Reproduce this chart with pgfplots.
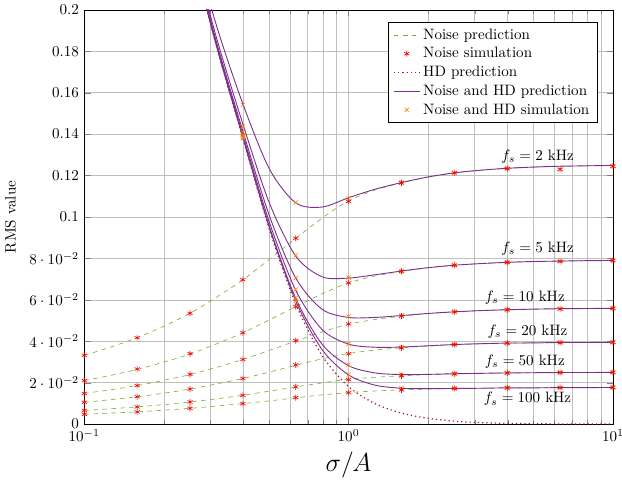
\documentclass[border=0pt]{standalone}
\usepackage{pgfplots}
\usepackage{pgfplotstable}
\pgfplotsset{compat=1.18}
\definecolor{mgreen}{RGB}{119,172,48}
\definecolor{mpurple}{RGB}{126,47,142}
\definecolor{mdarkred}{RGB}{162,20,47}
\definecolor{morange}{RGB}{255,127,0}

% noise prediction, per sampling frequency
\pgfplotstableread{
x      n2     n5     n10    n20    n50    n100
0.1000 0.0332 0.0210 0.0148 0.0105 0.0066 0.0047
0.1259 0.0372 0.0235 0.0166 0.0118 0.0074 0.0053
0.1585 0.0417 0.0264 0.0186 0.0132 0.0083 0.0059
0.1995 0.0472 0.0299 0.0211 0.0149 0.0094 0.0067
0.2512 0.0535 0.0338 0.0239 0.0169 0.0107 0.0076
0.3162 0.0612 0.0387 0.0274 0.0194 0.0122 0.0087
0.3981 0.0697 0.0441 0.0312 0.0220 0.0139 0.0099
0.5012 0.0795 0.0503 0.0356 0.0251 0.0159 0.0112
0.6310 0.0897 0.0567 0.0401 0.0284 0.0179 0.0127
0.7943 0.0995 0.0629 0.0445 0.0315 0.0199 0.0141
1.0000 0.1078 0.0682 0.0482 0.0341 0.0216 0.0152
1.2589 0.1130 0.0715 0.0505 0.0357 0.0226 0.0160
1.5849 0.1165 0.0737 0.0521 0.0368 0.0233 0.0165
1.9953 0.1193 0.0755 0.0534 0.0377 0.0239 0.0169
2.5119 0.1213 0.0767 0.0542 0.0384 0.0243 0.0172
3.1623 0.1226 0.0775 0.0548 0.0388 0.0245 0.0173
3.9811 0.1235 0.0781 0.0552 0.0391 0.0247 0.0175
5.0119 0.1241 0.0785 0.0555 0.0392 0.0248 0.0175
6.3096 0.1245 0.0787 0.0557 0.0394 0.0249 0.0176
7.9433 0.1247 0.0789 0.0558 0.0394 0.0249 0.0176
10.000 0.1249 0.0790 0.0559 0.0395 0.0250 0.0177
}\noisepred

% HD prediction and noise + HD prediction
\pgfplotstableread{
x      hd      c2     c5     c10    c20    c50    c100
0.2512 0.2320  0.2381 0.2345 0.2332 0.2326 0.2322 0.2321
0.3162 0.1825  0.1925 0.1866 0.1845 0.1835 0.1829 0.1827
0.3981 0.1380  0.1546 0.1449 0.1415 0.1398 0.1387 0.1384
0.5012 0.0942  0.1233 0.1068 0.1007 0.0975 0.0955 0.0949
0.6310 0.0580  0.1068 0.0811 0.0705 0.0646 0.0607 0.0594
0.7943 0.0330  0.1048 0.0711 0.0554 0.0456 0.0385 0.0359
1.0000 0.0181  0.1093 0.0705 0.0515 0.0386 0.0282 0.0237
1.2589 0.00985 0.1134 0.0721 0.0515 0.0371 0.0247 0.0188
1.5849 0.0053  0.1166 0.0739 0.0524 0.0372 0.0239 0.0173
1.9953 0.0028  0.1193 0.0755 0.0534 0.0378 0.0240 0.0171
2.5119 0.0014  0.1213 0.0767 0.0542 0.0384 0.0243 0.0172
3.1623 0.0007  0.1226 0.0775 0.0548 0.0388 0.0245 0.0173
3.9811 0.00035 0.1235 0.0781 0.0552 0.0391 0.0247 0.0175
5.0119 0.00017 0.1241 0.0785 0.0555 0.0392 0.0248 0.0175
6.3096 0.00008 0.1245 0.0787 0.0557 0.0394 0.0249 0.0176
7.9433 0.00004 0.1247 0.0789 0.0558 0.0394 0.0249 0.0176
10.000 0.00002 0.1249 0.0790 0.0559 0.0395 0.0250 0.0177
}\hdpred

% noise simulation
\pgfplotstableread{
x      s2     s5     s10    s20    s50    s100
0.1000 0.0332 0.0210 0.0148 0.0105 0.0066 0.0047
0.1585 0.0417 0.0266 0.0186 0.0132 0.0083 0.0059
0.2512 0.0535 0.0340 0.0240 0.0169 0.0107 0.0076
0.3981 0.0697 0.0441 0.0312 0.0220 0.0139 0.0099
0.6310 0.0897 0.0567 0.0403 0.0286 0.0180 0.0128
1.0000 0.1075 0.0682 0.0484 0.0340 0.0215 0.0152
1.5849 0.1165 0.0737 0.0521 0.0368 0.0233 0.0165
2.5119 0.1213 0.0767 0.0542 0.0384 0.0243 0.0172
3.9811 0.1233 0.0781 0.0552 0.0391 0.0247 0.0175
6.3096 0.1230 0.0785 0.0556 0.0393 0.0249 0.0176
10.000 0.1245 0.0790 0.0559 0.0395 0.0250 0.0177
}\noisesim

% noise + HD simulation
\pgfplotstableread{
x      t2     t5     t10    t20    t50    t100
0.3981 0.1540 0.1437 0.1410 0.1395 0.1385 0.1380
0.6310 0.1070 0.0815 0.0705 0.0650 0.0610 0.0595
1.0000 0.1090 0.0708 0.0520 0.0388 0.0287 0.0239
1.5849 0.1166 0.0739 0.0524 0.0372 0.0239 0.0172
2.5119 0.1213 0.0767 0.0542 0.0384 0.0243 0.0172
3.9811 0.1235 0.0781 0.0552 0.0391 0.0247 0.0175
6.3096 0.1230 0.0787 0.0557 0.0394 0.0249 0.0176
10.000 0.1245 0.0790 0.0559 0.0395 0.0250 0.0177
}\bothsim

\begin{document}
\begin{tikzpicture}[trim right=357pt]
\begin{axis}[
    scale only axis,
    width=351pt,
    height=275pt,
    xmode=log,
    xmin=0.1, xmax=10,
    ymin=0, ymax=0.2,
    ytick={0,0.02,0.04,0.06,0.08,0.1,0.12,0.14,0.16,0.18,0.2},
    scaled y ticks=false,
    grid=both,
    xlabel={\LARGE $\sigma/A$},
    ylabel={RMS value},
    ylabel shift=2pt,
    legend pos=north east,
    legend cell align=left,
    every axis plot/.append style={forget plot},
]
\addlegendimage{mgreen, dashed}
\addlegendentry{Noise prediction}
\addlegendimage{only marks, red, mark=asterisk, mark size=2pt}
\addlegendentry{Noise simulation}
\addlegendimage{mdarkred, dotted, thick}
\addlegendentry{HD prediction}
\addlegendimage{mpurple}
\addlegendentry{Noise and HD prediction}
\addlegendimage{only marks, morange, mark=x, mark size=2pt}
\addlegendentry{Noise and HD simulation}

\foreach \f in {2,5,10,20,50,100} {
  \addplot[mgreen, dashed, smooth] table[x=x, y=n\f] {\noisepred};
}
\addplot[mdarkred, dotted, thick, smooth] table[x=x, y=hd] {\hdpred};
\foreach \f in {2,5,10,20,50,100} {
  \addplot[mpurple, semithick, smooth] table[x=x, y=c\f] {\hdpred};
}
\foreach \f in {2,5,10,20,50,100} {
  \addplot[only marks, morange, mark=x, mark size=2pt] table[x=x, y=t\f] {\bothsim};
}
\foreach \f in {2,5,10,20,50,100} {
  \addplot[only marks, red, mark=asterisk, mark size=2pt] table[x=x, y=s\f] {\noisesim};
}

\node at (axis cs:5.19,0.1293) {$f_s = 2~\mathrm{kHz}$};
\node at (axis cs:5.19,0.0846) {$f_s = 5~\mathrm{kHz}$};
\node at (axis cs:4.64,0.0611) {$f_s = 10~\mathrm{kHz}$};
\node at (axis cs:4.75,0.0447) {$f_s = 20~\mathrm{kHz}$};
\node at (axis cs:4.64,0.0303) {$f_s = 50~\mathrm{kHz}$};
\node at (axis cs:4.75,0.0120) {$f_s = 100~\mathrm{kHz}$};
\end{axis}
\end{tikzpicture}
\end{document}
